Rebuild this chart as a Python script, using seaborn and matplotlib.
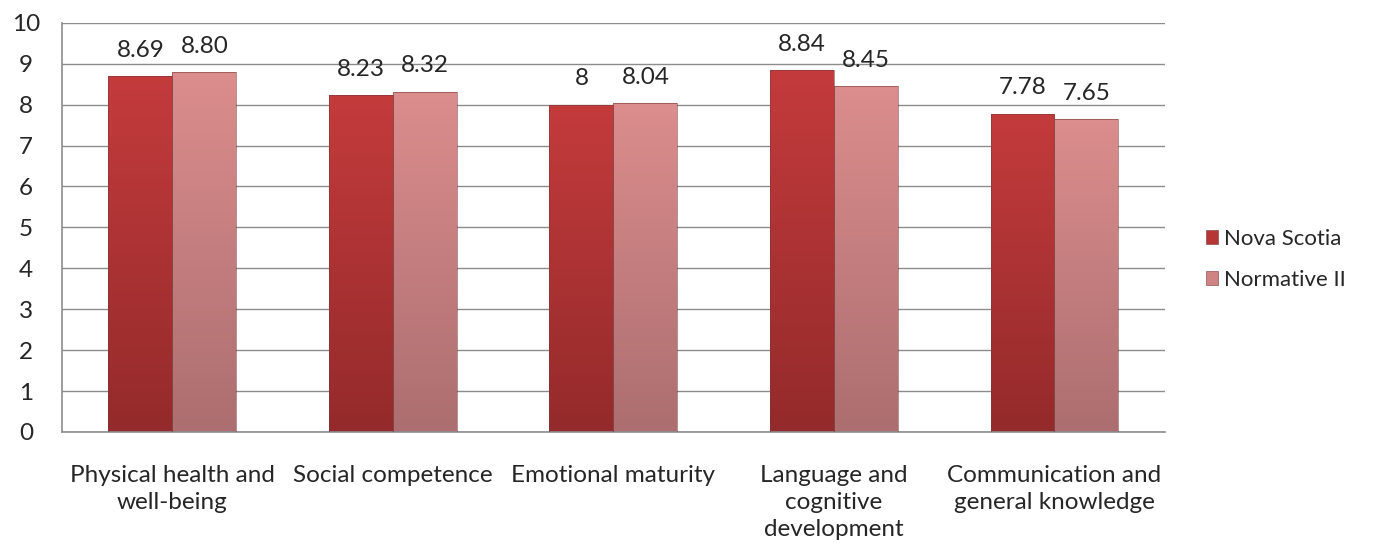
import pandas as pd
import matplotlib.pyplot as plt
import seaborn as sns
import numpy as np
from matplotlib.colors import LinearSegmentedColormap
from matplotlib.patches import Patch

# Data
domains = ['Physical health and\nwell-being', 'Social competence', 'Emotional maturity',
           'Language and\ncognitive\ndevelopment', 'Communication and\ngeneral knowledge']
nova_scotia = [8.69, 8.23, 8.00, 8.84, 7.78]
normative = [8.80, 8.32, 8.04, 8.45, 7.65]
nova_labels = ['8.69', '8.23', '8', '8.84', '7.78']
norm_labels = ['8.80', '8.32', '8.04', '8.45', '7.65']
series = ['Nova Scotia', 'Normative II']

df = pd.DataFrame({
    'domain': domains * 2,
    'value': nova_scotia + normative,
    'series': [series[0]] * len(domains) + [series[1]] * len(domains),
})

sns.set_style('white')
plt.rcParams['font.family'] = ['Lato', 'DejaVu Sans']
FS = 17.5

fig = plt.figure(figsize=(13.8, 5.44), dpi=100)
ax = fig.add_axes([0.045, 0.206, 0.799, 0.752])

palette = {'Nova Scotia': '#B83536', 'Normative II': '#D08383'}
sns.barplot(data=df, x='domain', y='value', hue='series', palette=palette,
            width=0.58, ax=ax, legend=False, edgecolor='none', saturation=1)

# vertical gradients on the bars
grads = {
    'Nova Scotia': ['#942A2B', '#C43B3C'],
    'Normative II': ['#AC6E70', '#DC8D8D'],
}
for container, name in zip(ax.containers, series):
    cmap = LinearSegmentedColormap.from_list(name, grads[name])
    for bar in container:
        x0, y0 = bar.get_x(), bar.get_y()
        w, h = bar.get_width(), bar.get_height()
        img = ax.imshow(np.linspace(0, 1, 256).reshape(-1, 1), cmap=cmap, aspect='auto',
                        extent=[x0, x0 + w, y0, y0 + h], origin='lower', zorder=2)
        img.set_clip_path(bar)
        bar.set_facecolor('none')
        bar.set_edgecolor('#7a3a3a')
        bar.set_linewidth(0.4)
        bar.set_zorder(3)

for container, labels in zip(ax.containers, [nova_labels, norm_labels]):
    ax.bar_label(container, labels=labels, padding=11, fontsize=FS)

ax.set_xlim(-0.5, len(domains) - 0.5)
ax.set_ylim(0, 10)
ax.set_yticks(range(0, 11))
ax.yaxis.grid(True, color='#8c8c8c', linewidth=1)
ax.set_axisbelow(True)
ax.set_xlabel('')
ax.set_ylabel('')
ax.tick_params(axis='y', labelsize=FS, length=0, pad=26)
ax.tick_params(axis='x', labelsize=FS, length=0, pad=24)
for lbl in ax.get_xticklabels():
    lbl.set_linespacing(1.35)
for lbl in ax.get_yticklabels():
    lbl.set_horizontalalignment('center')
for s in ['top', 'right']:
    ax.spines[s].set_visible(False)
for s in ['left', 'bottom']:
    ax.spines[s].set_color('#8c8c8c')
    ax.spines[s].set_linewidth(1.2)

handles = [Patch(facecolor='#B83536', edgecolor='#7a3a3a', linewidth=0.4),
           Patch(facecolor='#D08383', edgecolor='#7a3a3a', linewidth=0.4)]
fig.legend(handles, series, loc='center left', bbox_to_anchor=(0.874, 0.523),
           frameon=False, fontsize=16, handlelength=0.55, handleheight=0.55,
           handletextpad=0.25, labelspacing=0.95, borderpad=0, borderaxespad=0)

fig.savefig('out.png', dpi=100)
plt.close(fig)
